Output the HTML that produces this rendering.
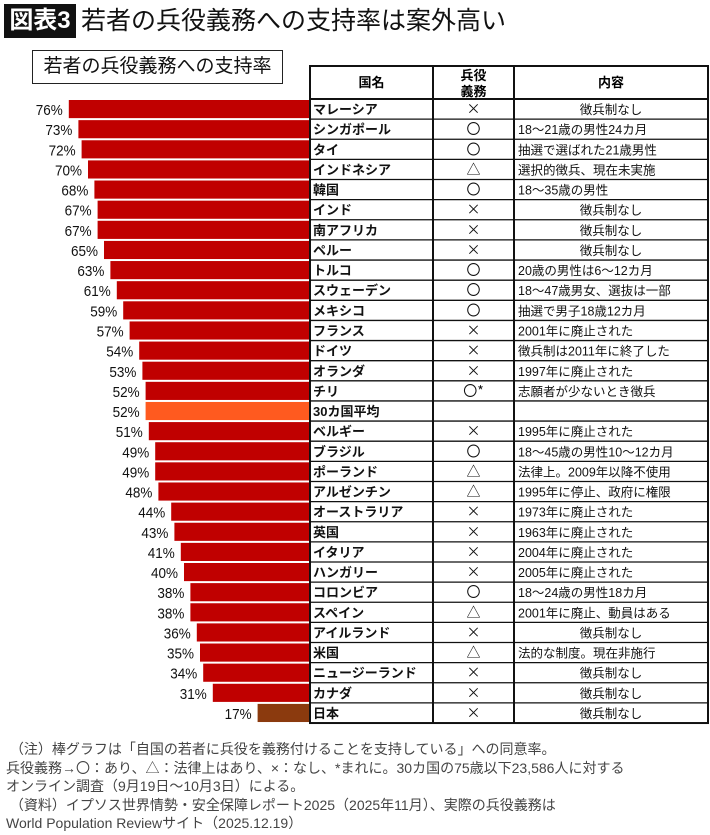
<!DOCTYPE html>
<html><head><meta charset="utf-8">
<style>
body{margin:0;width:710px;height:835px;background:#fff;font-family:"Liberation Sans","Noto Sans CJK JP",sans-serif;position:relative;overflow:hidden}
.abs{position:absolute}
</style></head><body>
<div class="abs" style="left:4px;top:4px;width:72px;height:34px;background:#111;color:#fff;font-size:24px;line-height:34px;text-align:center;font-weight:bold">図表3</div>
<div class="abs" style="left:81px;top:4px;font-size:25px;line-height:34px;color:#111">若者の兵役義務への支持率は案外高い</div>
<div class="abs" style="left:32px;top:50px;width:249px;height:32px;border:1.5px solid #222;font-size:19px;line-height:32px;text-align:center;color:#111">若者の兵役義務への支持率</div>
<svg class="abs" style="left:0;top:0" width="710" height="835" id="chart"></svg>
<div class="abs" style="left:6px;top:740px;font-size:14px;line-height:18.5px;color:#444">
&nbsp;（注）棒グラフは「自国の若者に兵役を義務付けることを支持している」への同意率。<br>
兵役義務→〇：あり、△：法律上はあり、×：なし、*まれに。30カ国の75歳以下23,586人に対する<br>
オンライン調査（9月19日～10月3日）による。<br>
&nbsp;（資料）イプソス世界情勢・安全保障レポート2025（2025年11月）、実際の兵役義務は<br>
World Population Reviewサイト（2025.12.19）</div>
<script>
const countries=["マレーシア","シンガポール","タイ","インドネシア","韓国","インド","南アフリカ","ペルー","トルコ","スウェーデン","メキシコ","フランス","ドイツ","オランダ","チリ","30カ国平均","ベルギー","ブラジル","ポーランド","アルゼンチン","オーストラリア","英国","イタリア","ハンガリー","コロンビア","スペイン","アイルランド","米国","ニュージーランド","カナダ","日本"];
const values=[76,73,72,70,68,67,67,65,63,61,59,57,54,53,52,52,51,49,49,48,44,43,41,40,38,38,36,35,34,31,17];
const duty=["×","〇","〇","△","〇","×","×","×","〇","〇","〇","×","×","×","〇*","","×","〇","△","△","×","×","×","×","〇","△","×","△","×","×","×"];
const content=["徴兵制なし","18～21歳の男性24カ月","抽選で選ばれた21歳男性","選択的徴兵、現在未実施","18～35歳の男性","徴兵制なし","徴兵制なし","徴兵制なし","20歳の男性は6～12カ月","18～47歳男女、選抜は一部","抽選で男子18歳12カ月","2001年に廃止された","徴兵制は2011年に終了した","1997年に廃止された","志願者が少ないとき徴兵","","1995年に廃止された","18～45歳の男性10～12カ月","法律上。2009年以降不使用","1995年に停止、政府に権限","1973年に廃止された","1963年に廃止された","2004年に廃止された","2005年に廃止された","18～24歳の男性18カ月","2001年に廃止、動員はある","徴兵制なし","法的な制度。現在非施行","徴兵制なし","徴兵制なし","徴兵制なし"];
const centered=new Set(["徴兵制なし"]);
const svg=document.getElementById('chart');const NS="http://www.w3.org/2000/svg";
function mk(t,a,txt){const e=document.createElementNS(NS,t);for(const k in a)e.setAttribute(k,a[k]);if(txt!==undefined)e.textContent=txt;svg.appendChild(e);return e;}
const top0=99,rh=20.13,right=309;
const x=v=>3.2*v-3;
const c0=310,c1=433,c2=514,c3=708,hTop=66;
values.forEach((v,i)=>{
 const y=top0+i*rh;
 const col=i===15?"#ff5a1f":(i===30?"#8b3a0e":"#c00000");
 const r=mk('rect',{x:right-x(v),y:y+1,width:x(v),height:rh-2,fill:col});
 
 
 const t=mk('text',{x:right-x(v)-6,y:y+rh/2+6,'text-anchor':'end','font-size':15,fill:'#111',textLength:27,lengthAdjust:'spacingAndGlyphs'},v+'%');
 
 
 const n=mk('text',{x:c0+3,y:y+rh/2+5,'font-size':13,'font-weight':'bold',fill:'#111'},countries[i]);
 
 
 const d=mk('text',{x:(c1+c2)/2,y:y+rh/2+5,'text-anchor':'middle','font-size':14,fill:'#111','font-family':'"Noto Sans CJK JP",sans-serif'},duty[i]);
 
 
 const cc=centered.has(content[i]);
 const c=mk('text',{x:cc?(c2+c3)/2:c2+4,y:y+rh/2+5,'text-anchor':cc?'middle':'start','font-size':12.5,fill:'#111'},content[i]);
 
 
});
const bottom=top0+values.length*rh;
mk('rect',{x:c0,y:hTop,width:c3-c0,height:bottom-hTop,fill:'none',stroke:'#111','stroke-width':2});
[c1,c2].forEach(cx=>mk('line',{x1:cx,y1:hTop,x2:cx,y2:bottom,stroke:'#111','stroke-width':2}));
for(let i=0;i<values.length;i++){const y=top0+i*rh;mk('line',{x1:c0,y1:y,x2:c3,y2:y,stroke:'#111','stroke-width':i===0?2:1.3});}
const h1=mk('text',{x:(c0+c1)/2,y:87,'text-anchor':'middle','font-size':13,'font-weight':'bold'},'国名');

const h2=mk('text',{x:(c1+c2)/2,y:80,'text-anchor':'middle','font-size':13,'font-weight':'bold'},'兵役');

mk('text',{x:(c1+c2)/2,y:96,'text-anchor':'middle','font-size':13,'font-weight':'bold'},'義務');
const h3=mk('text',{x:(c2+c3)/2,y:87,'text-anchor':'middle','font-size':13,'font-weight':'bold'},'内容');

</script>
</body></html>
